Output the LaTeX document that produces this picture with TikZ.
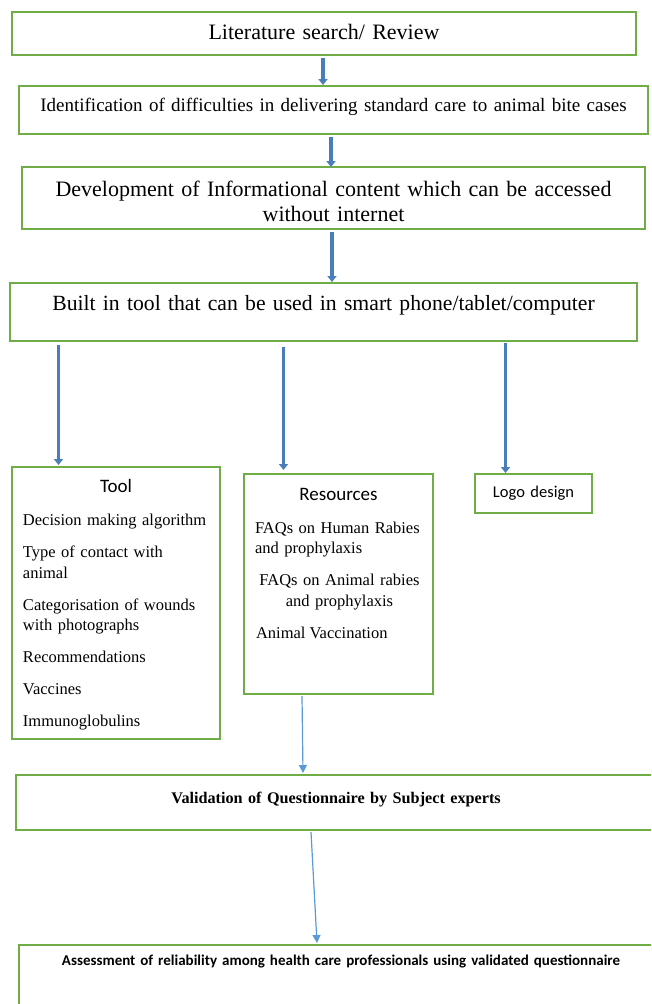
\documentclass[tikz,border=0pt]{standalone}
\usepackage{fontspec}
\setmainfont{Liberation Serif}
\setsansfont{Carlito}
\usetikzlibrary{arrows.meta}
\begin{document}
\begin{tikzpicture}[x=1pt, y=-1pt,
  flowbox/.style={draw=boxgreen, line width=2pt, inner sep=0pt, outer sep=0pt, align=center},
  listtext/.style={inner sep=0pt, outer sep=0pt, font=\fontsize{16.5}{20.5}\selectfont},
  fatarrow/.style={draw=fatblue, line width=3.5pt, -{Triangle[width=9pt,length=6pt]}},
  thinarrow/.style={draw=thinblue, line width=1.2pt, -{Triangle[width=8pt,length=8pt]}}]
\definecolor{boxgreen}{HTML}{70AD47}
\definecolor{fatblue}{HTML}{4A7EBB}
\definecolor{thinblue}{HTML}{5B9BD5}
\useasboundingbox (0,0) rectangle (651,1004);
\fill[white] (0,0) rectangle (651,1004);
\clip (0,0) rectangle (651,1004);
\node[flowbox, anchor=base, text width=624, text height=27, text depth=16, font=\fontsize{22}{25}\selectfont] (lit) at (324,39) {Literature search/ Review};
\node[flowbox, anchor=base, text width=629, text height=25, text depth=23, font=\fontsize{19}{22}\selectfont] (diff) at (333.5,111) {Identification of difficulties in delivering standard care to animal bite cases};
\node[flowbox, anchor=base, text width=623, text height=29, text depth=33, font=\fontsize{22}{25}\selectfont] (dev) at (333.5,196) {Development of Informational content which can be accessed\\without internet};
\node[flowbox, anchor=base, text width=627, text height=27, text depth=31, font=\fontsize{21.7}{25}\selectfont] (built) at (323.5,310) {Built in tool that can be used in smart phone/tablet/computer};
\node[flowbox, anchor=base, text width=208, text height=25, text depth=247, font=\sffamily\fontsize{19}{22}\selectfont] (tool) at (116,492) {Tool};
\node[flowbox, anchor=base, text width=189, text height=26, text depth=194, font=\sffamily\fontsize{19}{22}\selectfont] (res) at (338.5,500) {Resources};
\node[flowbox, anchor=base, text width=117, text height=23, text depth=16, font=\sffamily\fontsize{16.5}{20}\selectfont] (logo) at (533.5,497) {Logo design};
\node[flowbox, anchor=base, text width=640, text height=28, text depth=27, font=\bfseries\fontsize{16.2}{19}\selectfont] (valid) at (336,803) {Validation of Questionnaire by Subject experts};
\node[flowbox, anchor=base, text width=644, text height=20, text depth=75, font=\sffamily\bfseries\fontsize{15}{18}\selectfont] (assess) at (341,965) {Assessment of reliability among health care professionals using validated questionnaire};
\node[listtext, anchor=base west, text width=190, align=left] (toolitems) at (23,525.5) {Decision making algorithm\\[11.5pt]Type of contact with\\animal\\[11.5pt]Categorisation of wounds\\with photographs\\[11.5pt]Recommendations\\[11.5pt]Vaccines\\[11.5pt]Immunoglobulins};
\node[listtext, anchor=base west, text width=180, align=left] (reshuman) at (255,533) {FAQs on Human Rabies\\and prophylaxis};
\node[listtext, anchor=base, text width=180, align=center] (resanimal) at (339.5,585.5) {FAQs on Animal rabies\\and prophylaxis};
\node[listtext, anchor=base west] (resvacc) at (256,638) {Animal Vaccination};
\draw[fatarrow] ([xshift=-1pt,yshift=-3pt]lit.south) -- ([xshift=-10.5pt,yshift=1pt]diff.north);
\draw[fatarrow] ([xshift=-2.5pt,yshift=-3pt]diff.south) -- ([xshift=-2.5pt]dev.north);
\draw[fatarrow] ([xshift=-1.5pt,yshift=-3pt]dev.south) -- ([xshift=8.5pt,yshift=1pt]built.north);
\draw[fatarrow] ([xshift=48.5pt,yshift=-4pt]built.south west) -- ([xshift=46.5pt,yshift=2pt]tool.north west);
\draw[fatarrow] ([xshift=273.5pt,yshift=-6pt]built.south west) -- ([xshift=39.5pt,yshift=4pt]res.north west);
\draw[fatarrow] ([xshift=495.5pt,yshift=-2pt]built.south west) -- ([xshift=30.5pt,yshift=1pt]logo.north west);
\draw[thinarrow] ([xshift=58pt,yshift=-2pt]res.south west) -- ([xshift=287pt,yshift=2pt]valid.north west);
\draw[thinarrow] ([xshift=295pt,yshift=-2pt]valid.south west) -- ([xshift=298pt,yshift=2pt]assess.north west);
\end{tikzpicture}
\end{document}
